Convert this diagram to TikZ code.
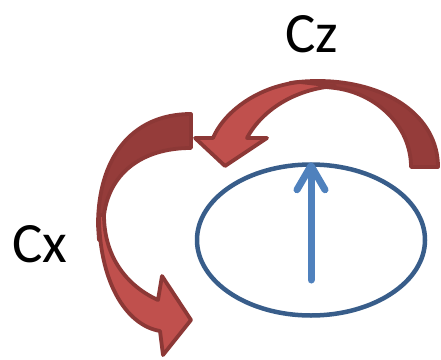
\documentclass[tikz,border=0pt]{standalone}
\usepackage{fontspec}
\setmainfont{Carlito}
\usepackage{xcolor}
\definecolor{RimRed}{HTML}{8C3836}
\definecolor{BackRed}{HTML}{953C3A}
\definecolor{FrontRed}{HTML}{C0504D}
\definecolor{RingBlue}{HTML}{385D8A}
\definecolor{SpinBlue}{HTML}{4F81BD}
\usetikzlibrary{arrows.meta,shapes.geometric}

\begin{document}
\begin{tikzpicture}[
    x=1pt, y=-1pt,
    lbl/.style={inner sep=0pt, anchor=base, font=\fontsize{57}{62}\selectfont},
    orbit/.style={ellipse, draw=RingBlue, line width=4.5pt,
      minimum width=228pt, minimum height=151pt, inner sep=0pt},
    spin/.style={SpinBlue, line width=7pt, line cap=round,
      -{Straight Barb[length=24pt, width=28pt, round]}},
    backpart/.style={fill=BackRed, draw=RimRed, line width=3.8pt, line join=round},
    frontpart/.style={backpart, fill=FrontRed}
  ]
  \useasboundingbox (0,0) rectangle (441,359);

  \node[lbl] (cz) at (312,52) {Cz};
  \node[lbl] (cx) at (40,262) {Cx};
  \node[orbit] (ring) at (311,240) {};
  \coordinate (stem) at (311,280);

  % rotation about z
  \draw[backpart] (438,167) .. controls (438,115) and (385,81) .. (318,81)
    .. controls (305,81) and (298,82) .. (290,83) -- (335,88)
    .. controls (375,93) and (411,125) .. (411,167) -- cycle;
  \draw[frontpart] (300,82) .. controls (260,86) and (225,110) .. (213,138)
    -- (195,138) -- (225,166) -- (267,138) -- (247,138)
    .. controls (262,110) and (295,89) .. (335,86) -- cycle;

  % rotation about x
  \draw[backpart] (191,114) .. controls (130,114) and (98,160) .. (98,225)
    -- (99,240) -- (104,215) .. controls (109,175) and (140,148) .. (191,148) -- cycle;
  \draw[frontpart] (99,215) .. controls (99,280) and (125,325) .. (160,331)
    -- (163,355) -- (191,320) -- (162,276) -- (158,300)
    .. controls (125,285) and (104,255) .. (104,215) -- cycle;

  \draw[spin] (stem) -- (ring.north);
\end{tikzpicture}
\end{document}
